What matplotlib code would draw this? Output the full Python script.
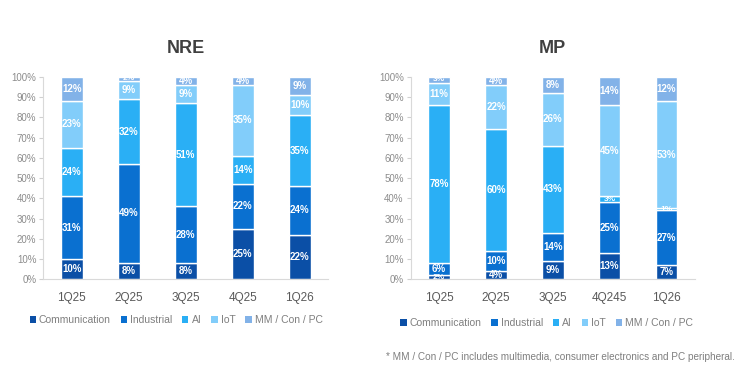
import matplotlib.pyplot as plt
from matplotlib.patches import Patch

plt.rcParams['font.family'] = ['Liberation Sans', 'DejaVu Sans']

# DATA ##########################################

segments = ['Communication', 'Industrial', 'AI', 'IoT', 'MM / Con / PC']
seg_colors = ['#0b4fa6', '#0a70d0', '#2aaff5', '#82cdfa', '#82b2e8']

nre_quarters = ['1Q25', '2Q25', '3Q25', '4Q25', '1Q26']
nre_comm = [10, 8, 8, 25, 22]
nre_ind = [31, 49, 28, 22, 24]
nre_ai = [24, 32, 51, 14, 35]
nre_iot = [23, 9, 9, 35, 10]
nre_mm = [12, 2, 4, 4, 9]

mp_quarters = ['1Q25', '2Q25', '3Q25', '4Q245', '1Q26']
mp_comm = [2, 4, 9, 13, 7]
mp_ind = [6, 10, 14, 25, 27]
mp_ai = [78, 60, 43, 3, 1]
mp_iot = [11, 22, 26, 45, 53]
mp_mm = [3, 4, 8, 14, 12]

# FIGURE ########################################

fig = plt.figure(figsize=(7.4, 3.66), dpi=100)
ax_l = fig.add_axes([0.0585, 0.237, 0.385, 0.553])
ax_r = fig.add_axes([0.555, 0.237, 0.384, 0.553])

grey = '#8c8c8c'


def draw_panel(ax, title, quarters, series):
    x = range(len(quarters))
    bottom = [0] * len(quarters)
    for vals, color in zip(series, seg_colors):
        ax.bar(x, vals, bottom=bottom, width=0.38, color=color,
               edgecolor='white', linewidth=1.0)
        for i, v in enumerate(vals):
            # tiny slices get a slightly smaller label
            fs = 7 if v >= 4 else 6
            ax.text(i, bottom[i] + v / 2, f'{v}%', ha='center', va='center',
                    color='white', fontsize=fs, fontweight='bold')
        bottom = [b + v for b, v in zip(bottom, vals)]

    ax.set_xlim(-0.5, 4.5)
    ax.set_ylim(0, 100)
    ax.set_yticks(range(0, 101, 10))
    ax.set_yticklabels([f'{t}%' for t in range(0, 101, 10)])
    ax.set_xticks(list(x))
    ax.set_xticklabels(quarters)
    ax.tick_params(axis='y', colors='#d0d0d0', labelcolor=grey, labelsize=7,
                   length=3, width=0.8, pad=2)
    ax.tick_params(axis='x', length=0, labelcolor='#595959', labelsize=8.5,
                   pad=9)
    for side in ['top', 'right']:
        ax.spines[side].set_visible(False)
    for side in ['left', 'bottom']:
        ax.spines[side].set_color('#d9d9d9')
        ax.spines[side].set_linewidth(0.8)
    ax.set_title(title, fontsize=13, fontweight='bold', color='#404040',
                 pad=17)


draw_panel(ax_l, 'NRE', nre_quarters,
           [nre_comm, nre_ind, nre_ai, nre_iot, nre_mm])
draw_panel(ax_r, 'MP', mp_quarters,
           [mp_comm, mp_ind, mp_ai, mp_iot, mp_mm])

# LEGENDS #######################################

handles = [Patch(facecolor=c, edgecolor='none') for c in seg_colors]
leg_kw = dict(ncol=5, frameon=False, fontsize=7.5, handlelength=0.6,
              handleheight=0.6, handletextpad=0.3, columnspacing=0.95,
              labelcolor='#7f7f7f')
fig.legend(handles, segments, loc='center', bbox_to_anchor=(0.238, 0.125),
           **leg_kw)
fig.legend(handles, segments, loc='center', bbox_to_anchor=(0.739, 0.117),
           **leg_kw)

fig.text(0.993, 0.025,
         '* MM / Con / PC includes multimedia, consumer electronics and PC peripheral.',
         ha='right', va='center', fontsize=7.2, color='#7f7f7f')

plt.savefig('out.png', dpi=100)
